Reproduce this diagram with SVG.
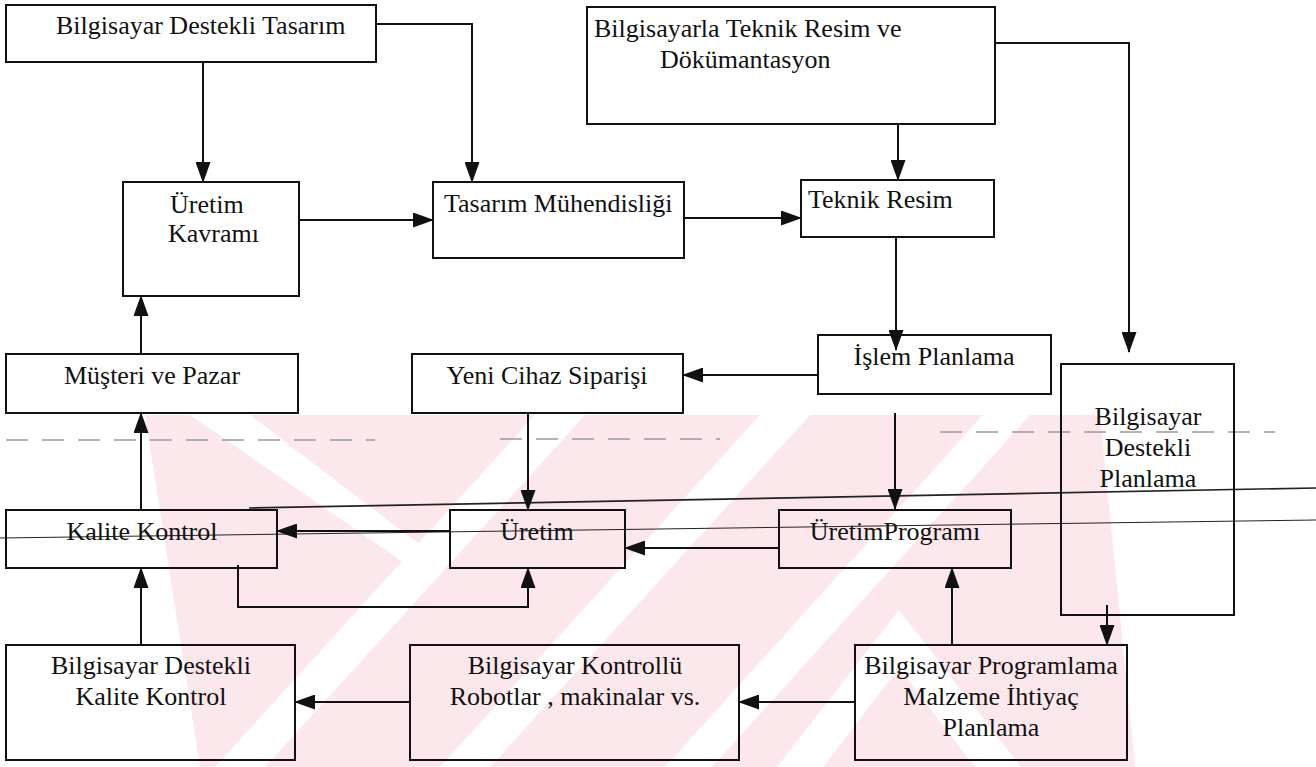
<svg xmlns="http://www.w3.org/2000/svg" width="1316" height="767" viewBox="0 0 1316 767">
<style>
.box{fill:none;stroke:#111;stroke-width:2}
.t{font-size:26px;fill:#111}
.m{text-anchor:middle}
.c{fill:none;stroke:#111;stroke-width:2}
.scan{fill:none;stroke:#222}
.dash{fill:none;stroke:#999;stroke-width:1.3;stroke-dasharray:22 14}
.wp{fill:#fce8ec}
.ww{fill:#fff}
</style>
<defs>
<marker id="ah" markerUnits="userSpaceOnUse" markerWidth="21" markerHeight="15" refX="20" refY="7.5" orient="auto">
<path d="M0,0 L21,7.5 L0,15 z" fill="#111"/>
</marker>
<clipPath id="wmclip"><polygon points="145,415 1100,415 1135,767 200,767"/></clipPath>
</defs>
<rect width="1316" height="767" fill="#fff"/>
<g id="watermark" clip-path="url(#wmclip)">
<rect class="wp" x="140" y="415" width="1000" height="352"/>
<polygon class="ww" points="215,767 265,767 585,415 535,415"/>
<polygon class="ww" points="440,767 490,767 810,415 760,415"/>
<polygon class="ww" points="665,767 712,767 1030,415 983,415"/>
<polygon class="ww" points="190,415 250,415 440,560 426,578"/>
<polygon class="ww" points="899,610 1021,767 975,767 899,668 823,767 777,767"/>
</g>
<g id="scan-lines">
<line class="scan" x1="249" y1="508" x2="1316" y2="488" stroke-width="1.6"/>
<line class="scan" x1="0" y1="538" x2="1316" y2="520" stroke-width="1"/>
<path class="dash" d="M6,440 H375 M500,439 H720 M940,432 H1275"/>
</g>
<g id="nodes" font-family="'Liberation Serif', 'Times New Roman', 'DejaVu Serif', serif">
<g id="n-cad"><rect class="box" x="6" y="5" width="370" height="57"/><text class="t" x="56" y="34">Bilgisayar Destekli Tasarım</text></g>
<g id="n-cadd"><rect class="box" x="587" y="7" width="408" height="117"/><text class="t" x="594" y="37">Bilgisayarla Teknik Resim ve</text><text class="t" x="660" y="68">Dökümantasyon</text></g>
<g id="n-uretim-kavrami"><rect class="box" x="123" y="182" width="176" height="114"/><text class="t" x="170" y="213">Üretim</text><text class="t" x="168" y="242">Kavramı</text></g>
<g id="n-tasarim-muh"><rect class="box" x="433" y="182" width="251" height="76"/><text class="t" x="444" y="212">Tasarım Mühendisliği</text></g>
<g id="n-teknik-resim"><rect class="box" x="801" y="180" width="193" height="57"/><text class="t" x="808" y="208">Teknik Resim</text></g>
<g id="n-musteri"><rect class="box" x="6" y="354" width="292" height="59"/><text class="t m" x="152" y="384">Müşteri ve Pazar</text></g>
<g id="n-yeni-cihaz"><rect class="box" x="412" y="354" width="271" height="59"/><text class="t m" x="547" y="384">Yeni Cihaz Siparişi</text></g>
<g id="n-islem"><rect class="box" x="818" y="335" width="233" height="59"/><text class="t m" x="934" y="365">İşlem Planlama</text></g>
<g id="n-bdp"><rect class="box" x="1061" y="364" width="173" height="251"/><text class="t m" x="1148" y="425">Bilgisayar</text><text class="t m" x="1148" y="456">Destekli</text><text class="t m" x="1148" y="487">Planlama</text></g>
<g id="n-kalite"><rect class="box" x="6" y="510" width="271" height="58"/><text class="t m" x="142" y="540">Kalite Kontrol</text></g>
<g id="n-uretim"><rect class="box" x="450" y="510" width="175" height="58"/><text class="t m" x="537" y="540">Üretim</text></g>
<g id="n-uretim-programi"><rect class="box" x="779" y="510" width="232" height="58"/><text class="t m" x="895" y="540">ÜretimProgramı</text></g>
<g id="n-bdkk"><rect class="box" x="6" y="645" width="289" height="115"/><text class="t m" x="151" y="674">Bilgisayar Destekli</text><text class="t m" x="151" y="705">Kalite Kontrol</text></g>
<g id="n-robot"><rect class="box" x="410" y="645" width="329" height="115"/><text class="t m" x="575" y="674">Bilgisayar Kontrollü</text><text class="t m" x="575" y="705">Robotlar , makinalar vs.</text></g>
<g id="n-bpmip"><rect class="box" x="855" y="645" width="272" height="115"/><text class="t m" x="991" y="674">Bilgisayar Programlama</text><text class="t m" x="991" y="705">Malzeme İhtiyaç</text><text class="t m" x="991" y="736">Planlama</text></g>
</g>
<g id="connectors">
<path class="c" marker-end="url(#ah)" d="M203,62 V182"/>
<path class="c" marker-end="url(#ah)" d="M376,24 H472 V182"/>
<path class="c" marker-end="url(#ah)" d="M299,220 H433"/>
<path class="c" marker-end="url(#ah)" d="M898,124 V180"/>
<path class="c" marker-end="url(#ah)" d="M684,218 H801"/>
<path class="c" marker-end="url(#ah)" d="M995,43 H1129 V352"/>
<path class="c" marker-end="url(#ah)" d="M896,237 V350"/>
<path class="c" marker-end="url(#ah)" d="M818,375 H683"/>
<path class="c" marker-end="url(#ah)" d="M895,413 V509"/>
<path class="c" marker-end="url(#ah)" d="M528,413 V510"/>
<path class="c" marker-end="url(#ah)" d="M141,354 V296"/>
<path class="c" marker-end="url(#ah)" d="M141,510 V413"/>
<path class="c" marker-end="url(#ah)" d="M450,531 H277"/>
<path class="c" marker-end="url(#ah)" d="M779,548 H625"/>
<path class="c" marker-end="url(#ah)" d="M238,565 V607 H528 V568"/>
<path class="c" marker-end="url(#ah)" d="M141,645 V568"/>
<path class="c" marker-end="url(#ah)" d="M410,702 H295"/>
<path class="c" marker-end="url(#ah)" d="M855,702 H739"/>
<path class="c" marker-end="url(#ah)" d="M952,645 V568"/>
<path class="c" marker-end="url(#ah)" d="M1107,605 V645"/>
</g>
</svg>
